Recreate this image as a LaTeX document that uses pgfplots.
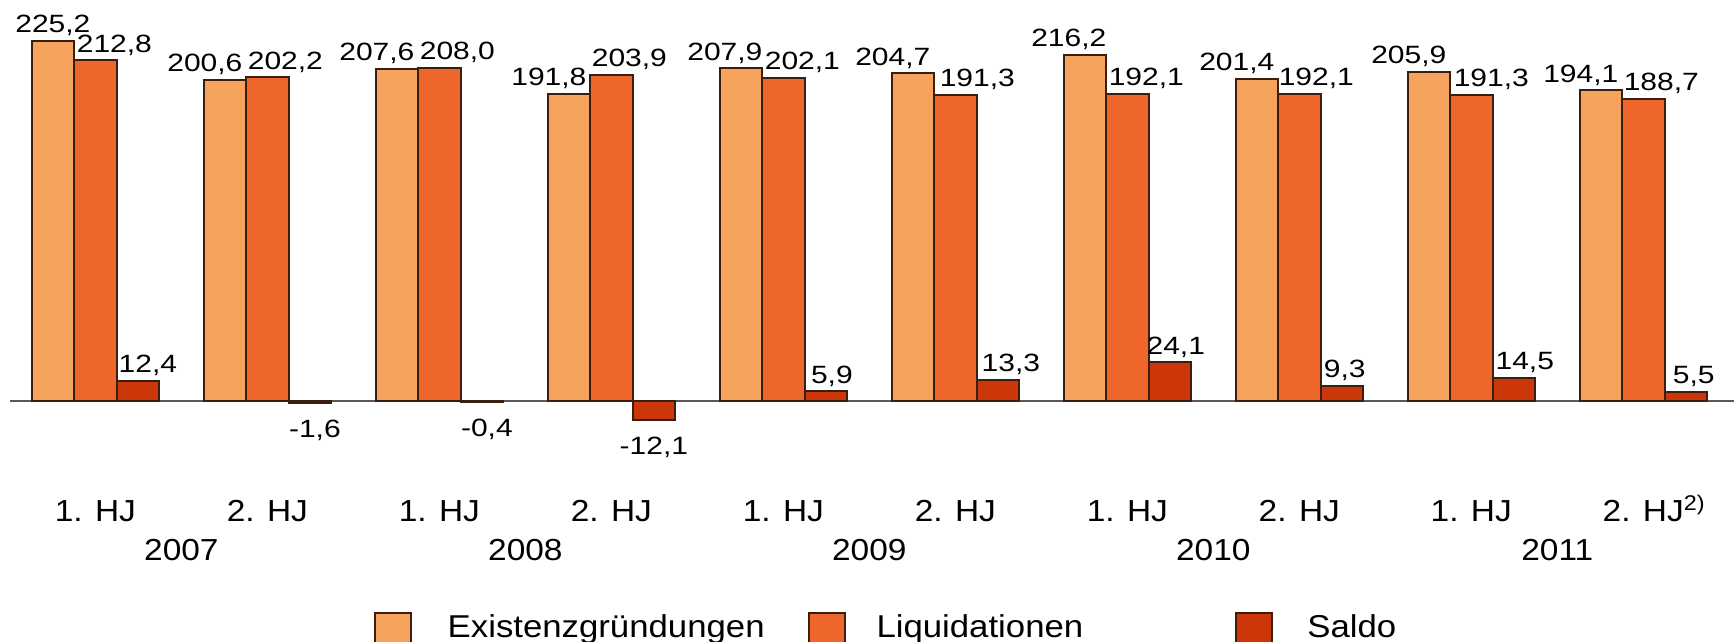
\documentclass[border=0pt]{standalone}
\usepackage{pgfplots}
\pgfplotsset{compat=1.18}
\usepackage{pgfplotstable}
\usepackage{fontspec}
\setmainfont{Liberation Sans}[FakeStretch=1.2]
\newfontfamily\labelfont{Liberation Sans}[FakeStretch=1.1]

\definecolor{cExist}{HTML}{F5A35D}
\definecolor{cLiq}{HTML}{EE6629}
\definecolor{cSaldo}{HTML}{CC370A}
\definecolor{cEdge}{HTML}{3A1E10}

% x = Halbjahr (0 = 1. HJ 2007), dx/dy = Verschiebung der Werte (pt)
\pgfplotstableread{
x y dx dy
0 225.2 0 0
1 200.6 -5 0
2 207.6 -5 0
3 191.8 -5 0
4 207.9 -4 0
5 204.7 -5 0
6 216.2 -4 0
7 201.4 -5 0
8 205.9 -5 0
9 194.1 -5 0
}\existenz

\pgfplotstableread{
x y dx dy
0 212.8 4.75 0
1 202.2 4.5 0
2 208.0 4.5 0
3 203.9 4.5 0
4 202.1 4.75 0
5 191.3 5.5 0
6 192.1 4.75 0
7 192.1 4.25 0
8 191.3 5 0
9 188.7 4.5 0
}\liquidation

\pgfplotstableread{
x y dx dy
0 12.4 2.5 0
1 -1.6 1.25 -3
2 -0.4 1.25 -3
3 -12.1 0 -3
4 5.9 1.5 0
5 13.3 3.25 0
6 24.1 1.5 0
7 9.3 0.75 0
8 14.5 2.75 0
9 5.5 2 0
}\saldo

\begin{document}
\begin{tikzpicture}
\begin{axis}[
  name=ax,
  x=43pt, y=0.4pt,
  xmin=-0.5547, xmax=9.5275,
  ymin=-150.6, ymax=250.6,
  hide axis,
  clip=false,
  ybar=0pt,
  bar width=10.625pt,
  every axis plot/.append style={draw=cEdge, line width=0.5pt},
  visualization depends on={\thisrow{dx}\as\dx},
  visualization depends on={\thisrow{dy}\as\dy},
  nodes near coords={\pgfmathprintnumber[fixed,fixed zerofill,precision=1,use comma,assume math mode=true]{\pgfplotspointmeta}},
  every node near coord/.append style={
    font=\fontsize{6.25}{7}\selectfont, text=black,
    inner sep=1pt, xshift=\dx pt, yshift=\dy pt},
]

\draw[draw=black!65, line width=0.55pt] (axis cs:-0.495,0) -- (axis cs:9.5275,0);

\addplot[fill=cExist] table[x=x,y=y] {\existenz};
\addplot[fill=cLiq] table[x=x,y=y] {\liquidation};
\addplot[fill=cSaldo] table[x=x,y=y] {\saldo};

% Halbjahre
\begin{scope}[every node/.style={anchor=base, font=\labelfont\fontsize{7.6}{8}\selectfont, inner sep=0pt}]
\node at (axis cs:0,-75.5) {1. HJ};
\node at (axis cs:1,-75.5) {2. HJ};
\node at (axis cs:2,-75.5) {1. HJ};
\node at (axis cs:3,-75.5) {2. HJ};
\node at (axis cs:4,-75.5) {1. HJ};
\node at (axis cs:5,-75.5) {2. HJ};
\node at (axis cs:6,-75.5) {1. HJ};
\node at (axis cs:7,-75.5) {2. HJ};
\node at (axis cs:8,-75.5) {1. HJ};
\node at (axis cs:9,-75.5) {2. HJ\rlap{\textsuperscript{2)}}};
\node at (axis cs:0.5,-100) {2007};
\node at (axis cs:2.5,-100) {2008};
\node at (axis cs:4.5,-100) {2009};
\node at (axis cs:6.5,-100) {2010};
\node at (axis cs:8.5,-100) {2011};
\end{scope}

% Legende
\begin{scope}[every node/.style={anchor=base west, font=\labelfont\fontsize{7.9}{8}\selectfont, inner sep=0pt}]
\draw[fill=cExist, draw=cEdge, line width=0.5pt] (axis cs:1.627,-132.5) rectangle ++(9pt,-9pt);
\node at (axis cs:2.044,-148.1) {Existenzgründungen};
\draw[fill=cLiq, draw=cEdge, line width=0.5pt] (axis cs:4.148,-132.5) rectangle ++(9pt,-9pt);
\node at (axis cs:4.537,-148.1) {Liquidationen};
\draw[fill=cSaldo, draw=cEdge, line width=0.5pt] (axis cs:6.630,-132.5) rectangle ++(9pt,-9pt);
\node at (axis cs:7.042,-148.1) {Saldo};
\end{scope}
\end{axis}
\pgfresetboundingbox
\path[use as bounding box] (ax.south west) rectangle (ax.north east);
\end{tikzpicture}
\end{document}
